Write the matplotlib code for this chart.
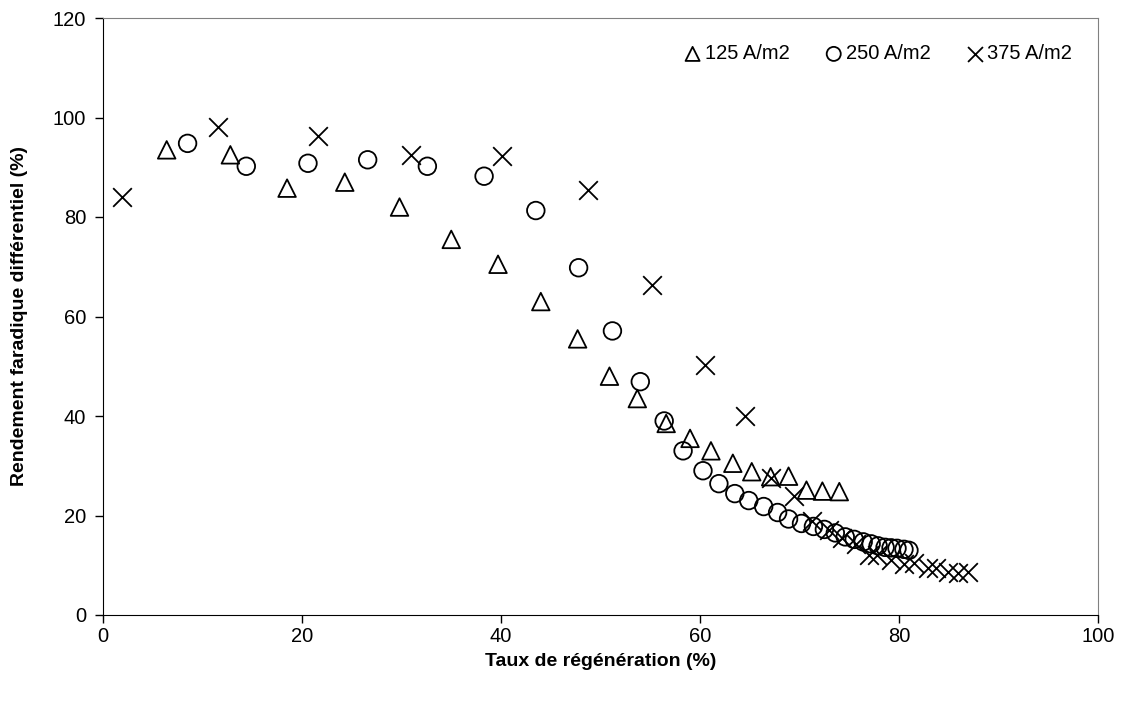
import matplotlib.pyplot as plt

plt.rcParams['font.family'] = ['Liberation Sans', 'DejaVu Sans']

# 125 A/m2
x_125 = [6.4, 12.8, 18.5, 24.3, 29.8, 35.0, 39.7, 44.0, 47.7, 50.9, 53.7, 56.6,
         59.0, 61.1, 63.3, 65.2, 67.1, 68.9, 70.7, 72.3, 74.0]
y_125 = [93.5, 92.5, 85.8, 87.0, 82.0, 75.5, 70.5, 63.0, 55.5, 48.0, 43.5, 38.5,
         35.5, 33.0, 30.5, 28.8, 27.8, 27.9, 25.1, 24.9, 24.8]

# 250 A/m2
x_250 = [8.5, 14.4, 20.6, 26.6, 32.6, 38.3, 43.5, 47.8, 51.2, 54.0, 56.4, 58.3,
         60.3, 61.9, 63.5, 64.9, 66.4, 67.8, 68.9, 70.2, 71.4, 72.5, 73.6, 74.6,
         75.5, 76.4, 77.2, 77.9, 78.6, 79.2, 79.8, 80.5, 81.0]
y_250 = [94.8, 90.2, 90.8, 91.5, 90.2, 88.2, 81.3, 69.8, 57.1, 46.9, 39.0, 33.0,
         29.0, 26.4, 24.4, 23.0, 21.8, 20.6, 19.3, 18.4, 17.8, 17.2, 16.5, 15.7,
         15.2, 14.7, 14.3, 13.9, 13.6, 13.5, 13.4, 13.2, 13.0]

# 375 A/m2
x_375 = [1.9, 11.6, 21.6, 31.0, 40.1, 48.7, 55.2, 60.5, 64.5, 67.1, 69.4, 71.3,
         73.0, 74.3, 75.7, 77.0, 77.8, 79.2, 80.5, 81.5, 82.9, 83.7, 84.9, 85.9, 86.9]
y_375 = [84.0, 98.0, 96.2, 92.4, 92.3, 85.5, 66.3, 50.2, 40.0, 27.6, 23.9, 18.8,
         17.1, 15.4, 14.3, 12.1, 12.1, 11.1, 10.3, 10.4, 9.4, 9.4, 8.7, 8.4, 8.6]

fig = plt.figure(figsize=(11.21, 7.02), dpi=100)
ax = fig.add_axes([103 / 1121, 1 - 615 / 702, 995 / 1121, 597 / 702])

ax.scatter(x_125, y_125, marker='^', s=160, facecolors='none', edgecolors='black',
           linewidths=1.3, label='125 A/m2')
ax.scatter(x_250, y_250, marker='o', s=160, facecolors='none', edgecolors='black',
           linewidths=1.3, label='250 A/m2')
ax.scatter(x_375, y_375, marker='x', s=180, color='black', linewidths=1.3,
           label='375 A/m2')

ax.set_xlim(0, 100)
ax.set_ylim(0, 120)
ax.set_xticks(range(0, 101, 20))
ax.set_yticks(range(0, 121, 20))
ax.tick_params(direction='out', length=6, width=1, labelsize=14.5, color='black')
ax.tick_params(axis='y', pad=6)
ax.tick_params(axis='x', pad=3)

for side in ['top', 'right']:
    ax.spines[side].set_color('#808080')
for side in ['left', 'bottom']:
    ax.spines[side].set_color('black')

ax.set_xlabel('Taux de régénération (%)', fontsize=14, fontweight='bold', labelpad=5)
ax.set_ylabel('Rendement faradique différentiel (%)', fontsize=14, fontweight='bold',
              labelpad=18)

ax.legend(loc='upper right', ncol=3, frameon=False, fontsize=14.5, markerscale=0.8,
          handletextpad=0.0, columnspacing=1.6, borderaxespad=0.9,
          handlelength=1.2)

fig.savefig('out.png', dpi=100)
